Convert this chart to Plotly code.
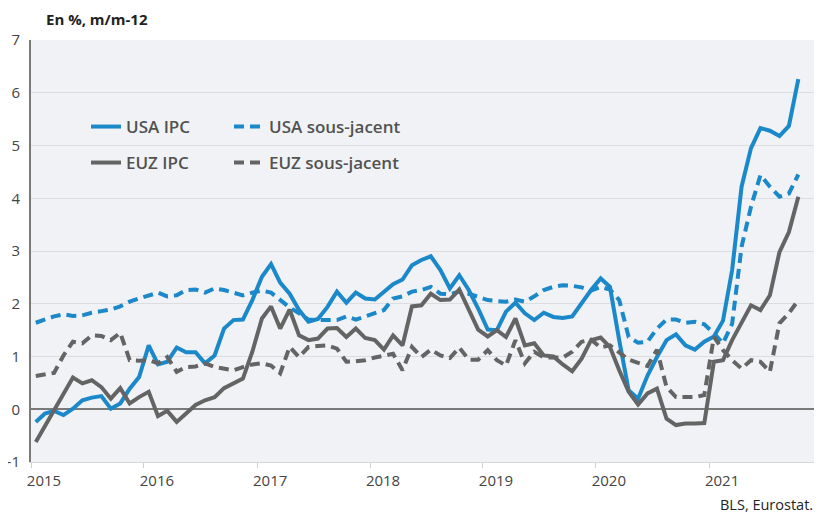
import pandas as pd
import plotly.graph_objects as go

months = pd.date_range("2015-01-01", periods=82, freq="MS")

usa_ipc = [
    -0.24, -0.08, -0.03, -0.11, 0.01, 0.17, 0.22, 0.25, 0.01, 0.11, 0.39, 0.61,
    1.21, 0.85, 0.90, 1.17, 1.08, 1.08, 0.87, 1.02, 1.53, 1.69, 1.70, 2.07,
    2.51, 2.75, 2.40, 2.19, 1.88, 1.66, 1.71, 1.94, 2.23, 2.02, 2.21, 2.10,
    2.08, 2.23, 2.37, 2.46, 2.73, 2.83, 2.90, 2.64, 2.29, 2.54, 2.26, 1.91,
    1.51, 1.50, 1.85, 2.02, 1.82, 1.69, 1.83, 1.75, 1.73, 1.76, 2.02, 2.26,
    2.48, 2.32, 1.31, 0.36, 0.20, 0.64, 0.99, 1.31, 1.42, 1.21, 1.13, 1.28,
    1.38, 1.68, 2.64, 4.22, 4.95, 5.33, 5.28, 5.18, 5.37, 6.26,
]

usa_core = [
    1.64, 1.71, 1.76, 1.80, 1.77, 1.78, 1.83, 1.86, 1.89, 1.95, 2.04, 2.10,
    2.16, 2.21, 2.14, 2.16, 2.26, 2.27, 2.21, 2.29, 2.26, 2.21, 2.16, 2.21,
    2.25, 2.21, 2.08, 1.93, 1.82, 1.70, 1.69, 1.69, 1.69, 1.76, 1.70, 1.76,
    1.82, 1.88, 2.10, 2.14, 2.23, 2.26, 2.32, 2.19, 2.18, 2.23, 2.19, 2.13,
    2.07, 2.05, 2.04, 2.08, 2.04, 2.14, 2.26, 2.32, 2.35, 2.34, 2.31, 2.25,
    2.32, 2.27, 2.07, 1.37, 1.26, 1.28, 1.53, 1.70, 1.70, 1.64, 1.66, 1.61,
    1.44, 1.25, 1.62, 3.08, 3.84, 4.44, 4.22, 4.03, 4.09, 4.45,
]

euz_ipc = [
    -0.62, -0.32, 0.00, 0.30, 0.60, 0.49, 0.55, 0.42, 0.20, 0.40, 0.11, 0.23,
    0.33, -0.13, -0.03, -0.24, -0.08, 0.08, 0.17, 0.23, 0.40, 0.50, 0.58, 1.09,
    1.72, 1.95, 1.53, 1.89, 1.40, 1.31, 1.34, 1.53, 1.54, 1.37, 1.53, 1.35,
    1.31, 1.13, 1.40, 1.21, 1.95, 1.97, 2.19, 2.07, 2.08, 2.27, 1.88, 1.51,
    1.38, 1.50, 1.37, 1.72, 1.21, 1.25, 1.02, 1.00, 0.85, 0.72, 0.96, 1.31,
    1.36, 1.18, 0.74, 0.33, 0.09, 0.30, 0.39, -0.18, -0.30, -0.27, -0.27, -0.26,
    0.90, 0.93, 1.31, 1.63, 1.97, 1.88, 2.16, 2.98, 3.36, 4.03,
]

euz_core = [
    0.63, 0.66, 0.69, 1.02, 1.28, 1.25, 1.40, 1.39, 1.31, 1.45, 0.93, 0.92,
    0.93, 0.87, 0.99, 0.71, 0.80, 0.81, 0.87, 0.80, 0.77, 0.74, 0.80, 0.85,
    0.87, 0.83, 0.68, 1.18, 0.99, 1.18, 1.20, 1.21, 1.15, 0.90, 0.91, 0.93,
    0.98, 1.02, 1.05, 0.74, 1.18, 0.99, 1.13, 1.02, 0.97, 1.17, 0.94, 0.94,
    1.12, 0.93, 0.83, 1.31, 0.87, 1.09, 0.98, 0.98, 0.98, 1.09, 1.28, 1.32,
    1.17, 1.21, 1.07, 0.94, 0.88, 0.82, 1.13, 0.42, 0.23, 0.23, 0.23, 0.27,
    1.37, 1.12, 0.93, 0.77, 0.93, 0.90, 0.71, 1.63, 1.82, 2.07,
]

year_ticks = pd.date_range("2015-01-01", periods=7, freq="YS")
year_labels = ["2015", "2016", "2017", "2018", "2019", "2020", "2021"]
y_ticks = [-1, 0, 1, 2, 3, 4, 5, 6, 7]
y_labels = ["-1", "0", "1", "2", "3", "4", "5", "6", "7"]

BLUE = "#1a88c9"
GREY = "#646464"
FONT = "Open Sans"
LW = 4

# The page body has an 8px margin, so the figure is sized to fill the
# visible 822x514 window from (8, 8).
OFF = 8
W, H = 822 - OFF, 514 - OFF
ML, MT, MB = 31 - OFF, 40 - OFF, 52
PW, PH = W - ML, H - MT - MB


def px_x(page_x):
    return (page_x - OFF - ML) / PW


def px_y(page_y):
    return (H - MB - (page_y - OFF)) / PH


fig = go.Figure()
common = dict(mode="lines", xperiod="M1", xperiodalignment="middle")
fig.add_trace(go.Scatter(x=months, y=usa_ipc, name="USA IPC", legend="legend",
                         line=dict(color=BLUE, width=LW), **common))
fig.add_trace(go.Scatter(x=months, y=usa_core, name="USA sous-jacent", legend="legend2",
                         line=dict(color=BLUE, width=LW, dash="10px,6px"), **common))
fig.add_trace(go.Scatter(x=months, y=euz_ipc, name="EUZ IPC", legend="legend3",
                         line=dict(color=GREY, width=LW), **common))
fig.add_trace(go.Scatter(x=months, y=euz_core, name="EUZ sous-jacent", legend="legend4",
                         line=dict(color=GREY, width=LW, dash="10px,6px"), **common))


def leg(x_page, y_page):
    return dict(
        xref="paper", yref="paper", x=px_x(x_page), y=px_y(y_page),
        xanchor="left", yanchor="middle", bgcolor="rgba(0,0,0,0)",
        font=dict(family=FONT, size=17, color="#525252", weight=600),
        itemwidth=30,
    )


fig.update_layout(
    width=W, height=H, showlegend=True,
    margin=dict(l=ML, r=0, t=MT, b=MB, autoexpand=False),
    paper_bgcolor="white", plot_bgcolor="#f0f2f5",
    font=dict(family=FONT, size=15, color="#444444"),
    legend=leg(86, 127),
    legend2=leg(229, 127),
    legend3=leg(86, 163),
    legend4=leg(229, 163),
    xaxis=dict(
        range=["2015-01-01", "2022-01-01"], automargin=False,
        tickvals=year_ticks, ticktext=year_labels,
        ticks="outside", ticklen=5, tickcolor="#cfcfcf", tickwidth=1,
        ticklabelshift=13, ticklabelstandoff=0,
        showgrid=False, zeroline=False,
        showline=True, linecolor="#d8d8d8", linewidth=1,
        tickfont=dict(size=15, color="#444444"),
    ),
    yaxis=dict(
        range=[-1, 7], automargin=False,
        tickvals=y_ticks, ticktext=y_labels,
        showgrid=True, gridcolor="#dcdde0", gridwidth=1,
        zeroline=True, zerolinecolor="#7a7a7a", zerolinewidth=2,
        showline=True, linecolor="#7a7a7a", linewidth=2,
        ticks="", ticklabelstandoff=6,
        tickfont=dict(size=15, color="#444444"),
    ),
    annotations=[
        dict(text="<b>En %, m/m-12</b>", xref="paper", yref="paper",
             x=px_x(44), y=px_y(19), xanchor="left", yanchor="middle",
             showarrow=False, font=dict(family=FONT, size=15, color="#222222")),
        dict(text="BLS, Eurostat.", xref="paper", yref="paper",
             x=px_x(815), y=px_y(505), xanchor="right", yanchor="middle",
             showarrow=False, font=dict(family=FONT, size=14.5, color="#222222")),
    ],
)

fig.write_html("out.html")
